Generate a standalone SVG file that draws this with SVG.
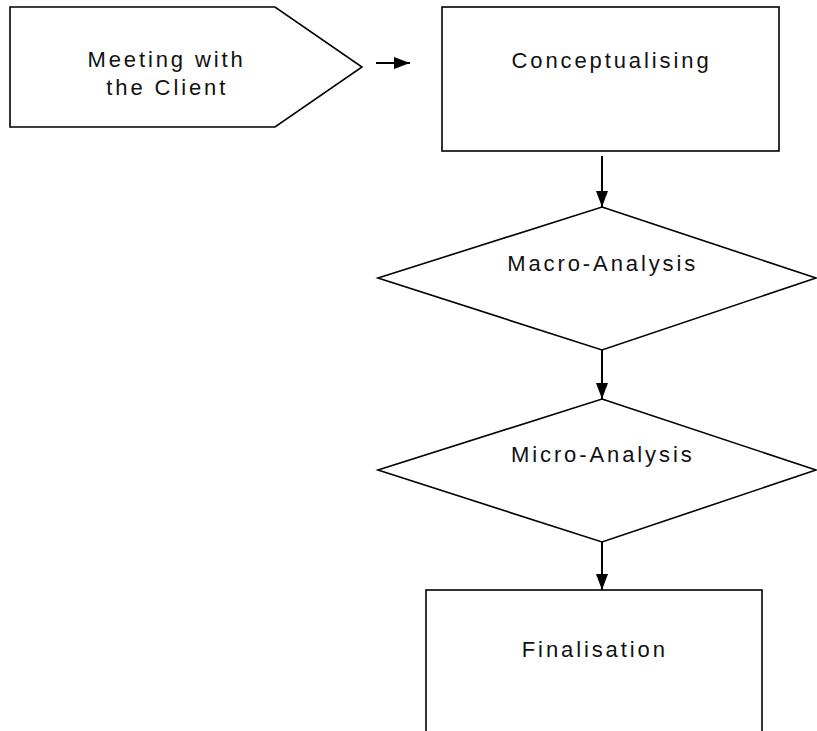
<svg xmlns="http://www.w3.org/2000/svg" width="817" height="731" viewBox="0 0 817 731">
<style>
.shape{fill:#fff;stroke:#000;stroke-width:1.6}
.lbl{font-family:"Liberation Sans",Arial,sans-serif;font-size:22px;letter-spacing:2.9px;fill:#111;text-anchor:middle}
.conn{stroke:#000;stroke-width:2;fill:none}
</style>
<defs>
<marker id="ah" markerUnits="userSpaceOnUse" markerWidth="17" markerHeight="13" refX="16" refY="6" orient="auto">
<path d="M0,0 L16,6 L0,12 Z" fill="#000"/>
</marker>
</defs>
<rect width="817" height="731" fill="#fff"/>
<g id="meeting">
<polygon class="shape" points="10,7 275,7 362,67 275,127 10,127"/>
<text class="lbl" x="166.6" y="67">Meeting with</text>
<text class="lbl" x="167.3" y="95">the Client</text>
</g>
<g id="conceptualising">
<rect class="shape" x="442" y="7" width="337" height="144"/>
<text class="lbl" x="611.5" y="68">Conceptualising</text>
</g>
<g id="macro">
<polygon class="shape" points="602,207 816,278 602,350 378,278"/>
<text class="lbl" x="602.7" y="270.5">Macro-Analysis</text>
</g>
<g id="micro">
<polygon class="shape" points="602,399 816,470 602,542 378,470"/>
<text class="lbl" x="602.8" y="462">Micro-Analysis</text>
</g>
<g id="finalisation">
<rect class="shape" x="426" y="590" width="336" height="160"/>
<text class="lbl" x="594.8" y="657">Finalisation</text>
</g>
<g id="connectors">
<line class="conn" x1="376" y1="63" x2="410" y2="63" marker-end="url(#ah)"/>
<line class="conn" x1="602" y1="156" x2="602" y2="207" marker-end="url(#ah)"/>
<line class="conn" x1="602" y1="350" x2="602" y2="399" marker-end="url(#ah)"/>
<line class="conn" x1="602" y1="542" x2="602" y2="590" marker-end="url(#ah)"/>
</g>
</svg>
